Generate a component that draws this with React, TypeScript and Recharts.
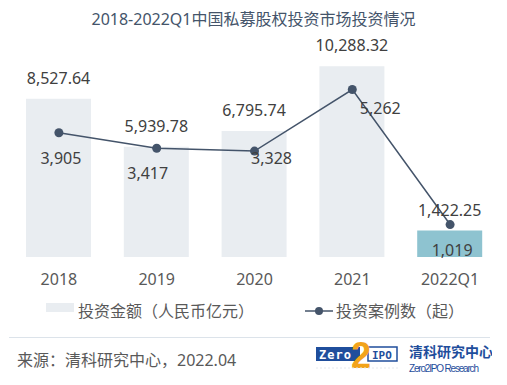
import { ComposedChart, Bar, Line, XAxis, YAxis, LabelList, Cell } from 'recharts';

const categories = ['2018', '2019', '2020', '2021', '2022Q1'];
const amounts = [8527.64, 5939.78, 6795.74, 10288.32, 1422.25];
const cases = [3905, 3417, 3328, 5262, 1019];

// where each case-count label sits relative to its dot
const caseLabelNudge = [[2, 25], [-9, 25], [17, 7], [28, 19], [2, 25]];

const font = '"Noto Sans", "Noto Sans CJK SC", sans-serif';
const lineColor = '#44546A';

const data = categories.map((c, i) => ({ name: c, amount: amounts[i], cases: cases[i] }));

const fmt = (v: number, d: number) =>
    v.toLocaleString('en-US', { minimumFractionDigits: d, maximumFractionDigits: d });

const CaseLabel = (props: any) => {
    const { x, y, value, index } = props;
    const [dx, dy] = caseLabelNudge[index];
    return (
        <text x={x + dx} y={y + dy} textAnchor="middle" dominantBaseline="central"
            fontSize={16} fill="#404040" fontFamily={font}>
            {fmt(value, 0)}
        </text>
    );
};

const Logo = () => (
    <svg width={180} height={40} style={{ position: 'absolute', left: 312, top: 336 }}>
        <rect x={4} y={11} width={44} height={14} fill="#1F4E9C" />
        <text x={7} y={22.5} fontSize={12} fontWeight="bold" fill="#fff" fontFamily="DejaVu Sans Mono" letterSpacing={1}>Zero</text>
        <rect x={56} y={11} width={29} height={14} fill="#fff" stroke="#1F4E9C" strokeWidth={1.5} />
        <text x={60} y={22.5} fontSize={11} fontWeight="bold" fill="#1F4E9C" fontFamily="DejaVu Sans Mono">IPO</text>
        <text x={39} y={32} fontSize={36} fontWeight="bold" fill="#F2A31B" fontFamily="Liberation Sans">2</text>
        <line x1={4} y1={32} x2={86} y2={32} stroke="#e6e9ee" strokeDasharray="2 2" />
        <text x={97} y={21} fontSize={14} fontWeight="bold" fill="#1F4E9C" fontFamily='"Noto Sans CJK SC"'>清科研究中心</text>
        <text x={97} y={36} fontSize={10} fill="#1F4E9C" fontFamily='"Liberation Sans Narrow", "Liberation Sans"' textLength={70}>Zero2IPO Research</text>
    </svg>
);

export default function App() {
    return (
        <div style={{ position: 'absolute', left: 0, top: 0, width: 507, height: 385, background: '#fff', fontFamily: font }}>
            <div style={{ position: 'absolute', top: 8, width: 507, textAlign: 'center', fontSize: 16, color: lineColor, lineHeight: '22px' }}>
                2018-2022Q1中国私募股权投资市场投资情况
            </div>
            <div style={{ position: 'absolute', left: 0, top: 0 }}>
                <ComposedChart width={507} height={300} data={data} margin={{ top: 40, right: 8, left: 10, bottom: 0 }}>
                    <XAxis dataKey="name" axisLine={false} tickLine={false} tickSize={0} tickMargin={17} height={43}
                        tick={{ fontSize: 16, fill: '#595959', fontFamily: font }} interval={0} />
                    <YAxis yAxisId="amt" hide domain={[0, 11700]} />
                    <YAxis yAxisId="cnt" hide domain={[0, 6817]} orientation="right" />
                    <Bar yAxisId="amt" dataKey="amount" barSize={65} fill="#E9EDF1" isAnimationActive={false}>
                        {data.map((d, i) => (
                            <Cell key={d.name} fill={i === data.length - 1 ? '#8EC3D0' : '#E9EDF1'} />
                        ))}
                        <LabelList dataKey="amount" position="top" offset={15} fontSize={16} fill="#404040"
                            fontFamily={font} formatter={(v: any) => fmt(Number(v), 2)} />
                    </Bar>
                    <Line yAxisId="cnt" dataKey="cases" stroke={lineColor} strokeWidth={1.5}
                        dot={{ r: 4.5, fill: lineColor, stroke: lineColor, strokeWidth: 0 }}
                        isAnimationActive={false}>
                        <LabelList dataKey="cases" content={CaseLabel} />
                    </Line>
                </ComposedChart>
            </div>
            <div style={{ position: 'absolute', left: 46, top: 303, width: 28, height: 9, background: '#E9EDF1' }} />
            <div style={{ position: 'absolute', left: 78, top: 299, fontSize: 16, color: '#595959', lineHeight: '24px' }}>
                投资金额（人民币亿元）
            </div>
            <svg width={30} height={12} style={{ position: 'absolute', left: 304, top: 305 }}>
                <line x1={1} y1={6} x2={29} y2={6} stroke={lineColor} strokeWidth={1.5} />
                <circle cx={15} cy={6} r={4} fill={lineColor} />
            </svg>
            <div style={{ position: 'absolute', left: 336, top: 299, fontSize: 16, color: '#595959', lineHeight: '24px' }}>
                投资案例数（起）
            </div>
            <div style={{ position: 'absolute', left: 9, top: 337, width: 481, height: 1, background: '#DCE3EA' }} />
            <div style={{ position: 'absolute', left: 17, top: 348, fontSize: 16, color: '#595959', lineHeight: '24px' }}>
                来源：清科研究中心，2022.04
            </div>
            <Logo />
        </div>
    );
}
